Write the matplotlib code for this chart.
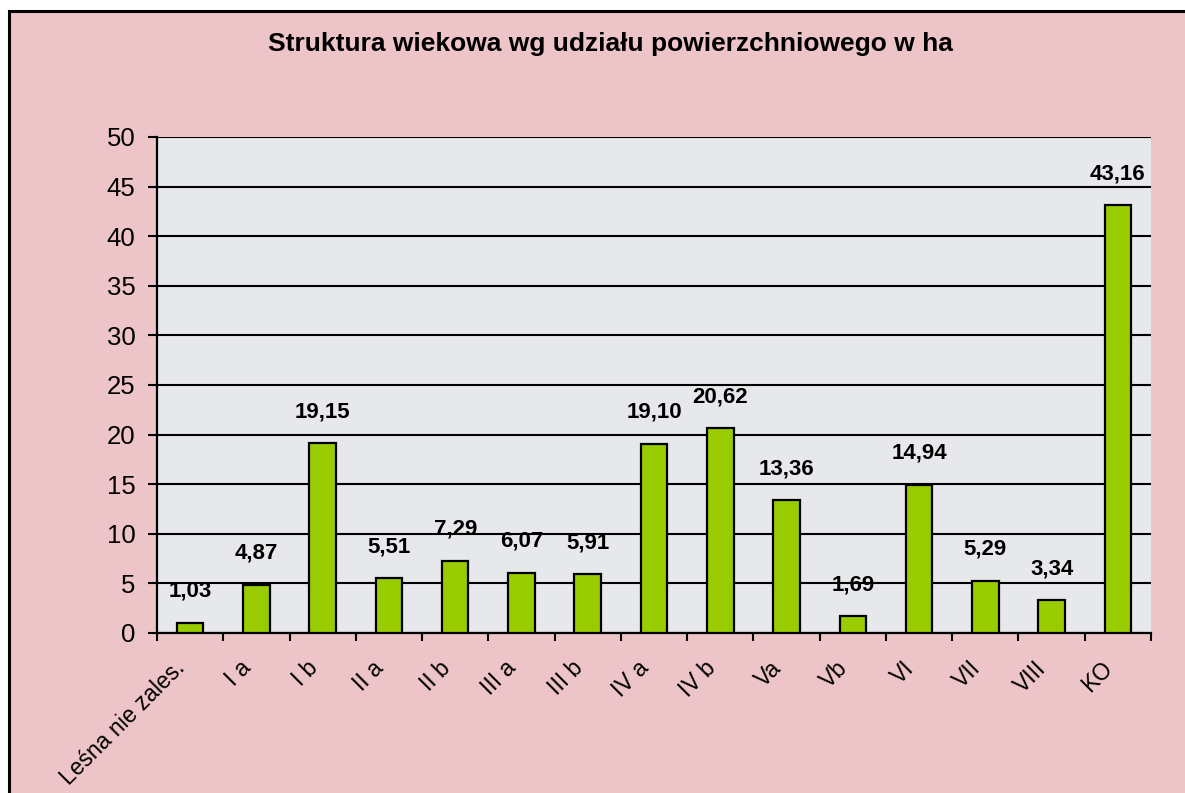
import matplotlib
matplotlib.use("Agg")
import matplotlib.pyplot as plt
from matplotlib.patches import Rectangle

plt.rcParams['font.family'] = ['Liberation Sans', 'DejaVu Sans']

# data
klasy = ['Leśna nie zales.', 'I a', 'I b', 'II a', 'II b', 'III a', 'III b',
         'IV a', 'IV b', 'Va', 'Vb', 'VI', 'VII', 'VIII', 'KO']
powierzchnia = [1.03, 4.87, 19.15, 5.51, 7.29, 6.07, 5.91,
                19.10, 20.62, 13.36, 1.69, 14.94, 5.29, 3.34, 43.16]
y_ticks = [0, 5, 10, 15, 20, 25, 30, 35, 40, 45, 50]

fig = plt.figure(figsize=(11.85, 7.93), dpi=100, facecolor='white')

# pink chart area with black frame (cut off at right / bottom)
W, H = 1185, 793
fig.patches.append(Rectangle((9 / W, -0.05), 1.1, 1 - 11 / H + 0.05,
                             transform=fig.transFigure, facecolor='#edc4c8',
                             edgecolor='black', linewidth=2.2, zorder=-10))

ax = fig.add_axes([157 / W, (H - 633) / H, (1151 - 157) / W, (633 - 137) / H])
ax.set_zorder(1)
ax.set_facecolor('#e7e8eb')

x = list(range(len(klasy)))
ax.bar(x, powierzchnia, width=0.4, color='#99cc00', edgecolor='black',
       linewidth=1.6, zorder=3)

for xi, v in zip(x, powierzchnia):
    ax.annotate(f"{v:.2f}".replace('.', ','), (xi, v), xytext=(0, 15),
                textcoords='offset points', ha='center', va='bottom',
                fontsize=16, fontweight='bold', zorder=4)

ax.set_ylim(0, 50)
ax.set_xlim(-0.5, len(klasy) - 0.5)
ax.set_yticks(y_ticks)
ax.yaxis.grid(True, color='black', linewidth=1.5, zorder=1)
ax.set_axisbelow(True)

# tick marks on category boundaries, labels drawn below category centers
ax.set_xticks([i - 0.5 for i in range(len(klasy) + 1)])
ax.set_xticklabels([])
for xi, k in zip(x, klasy):
    ax.annotate(k, (xi, 0), xycoords=('data', 'axes fraction'),
                xytext=(-12, -17), textcoords='offset points',
                rotation=45, ha='right', va='top', rotation_mode='anchor',
                fontsize=16.5, annotation_clip=False)
ax.tick_params(axis='x', which='major', length=6, width=1.5, direction='out')
ax.tick_params(axis='y', length=6.5, width=1.5, labelsize=18.5, pad=9)

for s in ['top', 'right']:
    ax.spines[s].set_visible(False)
for s in ['left', 'bottom']:
    ax.spines[s].set_linewidth(1.6)

fig.text(610 / W, 1 - 44 / H, 'Struktura wiekowa wg udziału powierzchniowego w ha',
         ha='center', va='center', fontsize=19, fontweight='bold')

fig.savefig('out.png', dpi=100, facecolor=fig.get_facecolor())
